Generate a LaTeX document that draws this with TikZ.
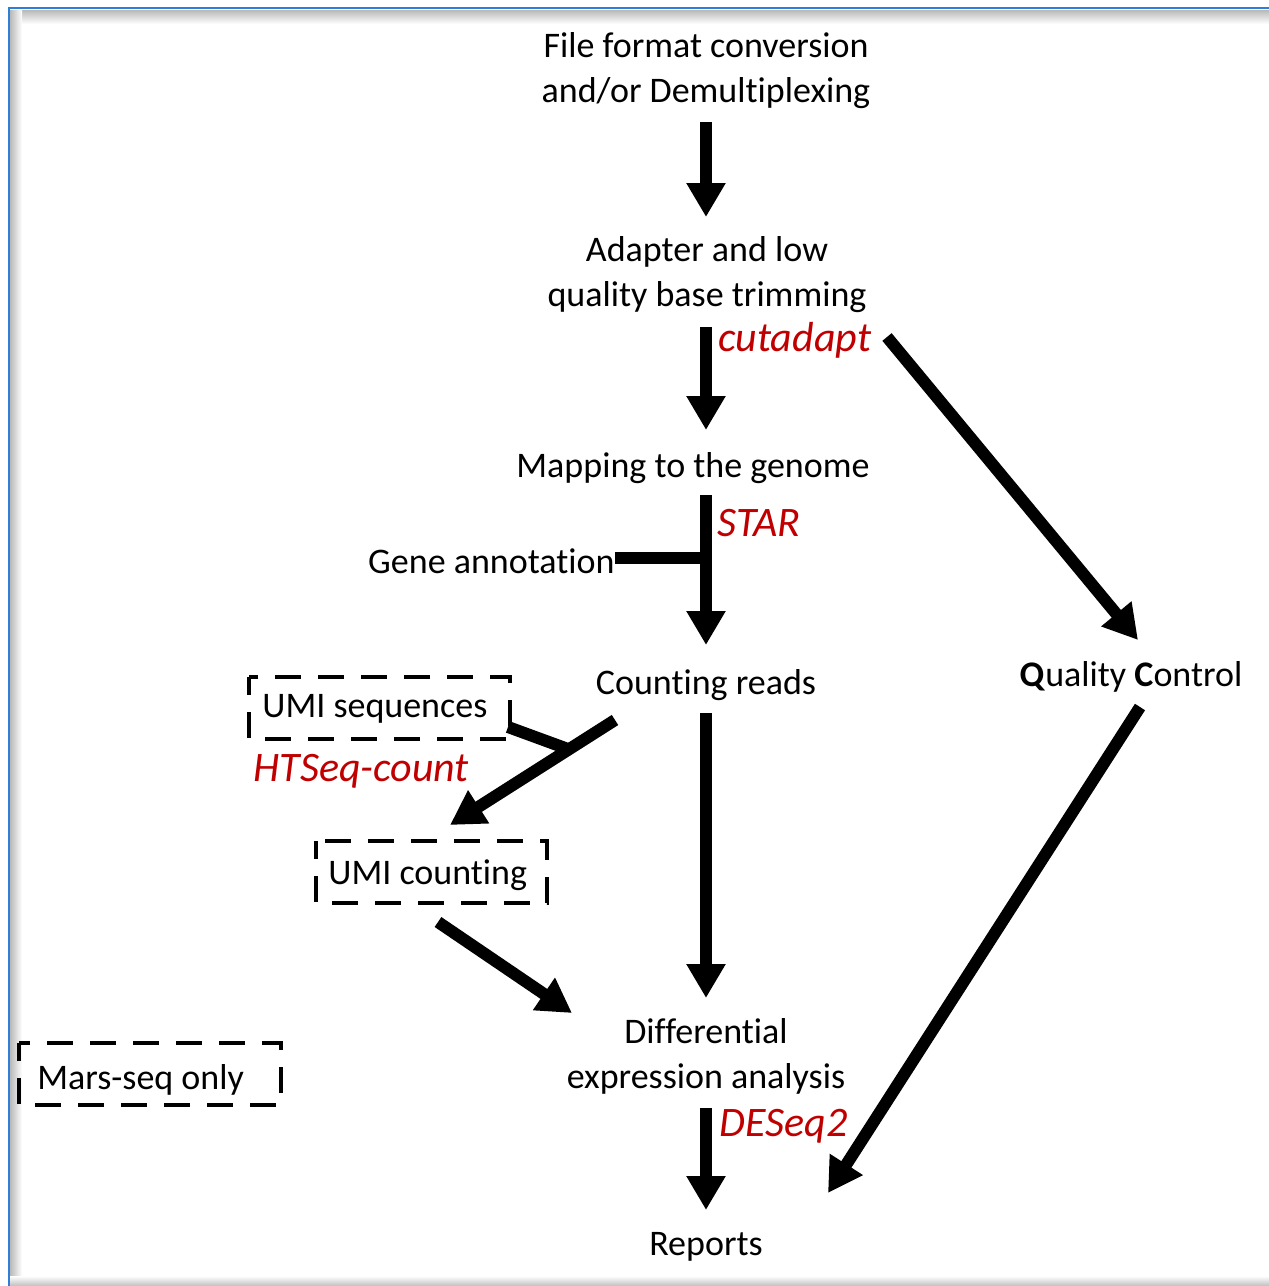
\documentclass[tikz,border=0pt]{standalone}
\usepackage{fontspec}
\setmainfont{Carlito}[Ligatures={NoCommon}]
\usetikzlibrary{arrows.meta}
\definecolor{frameblue}{HTML}{2F7FD4}
\definecolor{tool}{HTML}{C00000}
\tikzset{
  lbl/.style={inner sep=0pt, align=center, font=\fontsize{18pt}{22.5pt}\selectfont},
  toolname/.style={inner sep=0pt, text=tool, font=\fontsize{21pt}{25pt}\selectfont\itshape},
  arr/.style={line width=6pt, -{Triangle[length=17pt,width=18.5pt]}},
  bar/.style={line width=6pt},
  dbox/.style={draw, line width=2.3pt, dash pattern=on 13pt off 8.5pt, dash phase=4pt}
}
\begin{document}
\begin{tikzpicture}[x=0.5pt,y=-0.5pt]
\useasboundingbox (0,0) rectangle (1269,1286);
% frame with soft inner shadow
\shade[top color=gray!55, bottom color=white] (10,10) rectangle (1269,24);
\shade[left color=gray!55, right color=white] (10,10) rectangle (22,1286);
\shade[top color=white, bottom color=gray!50] (10,1276) rectangle (1269,1286);
\fill[white] (22,24) rectangle (1269,1276);
\draw[frameblue, line width=1.2pt] (9,1286) -- (9,8) -- (1269,8);

% main pipeline steps
\node[lbl] (fmt) at (706,71) {File format conversion\\and/or Demultiplexing};
\node[lbl] (trim) at (707,275) {Adapter and low\\quality base trimming};
\node[lbl] (map) at (693,468) {Mapping to the genome};
\node[lbl, anchor=east] (gene) at (615,561) {Gene annotation};
\node[lbl] (count) at (706,685) {Counting reads};
\node[lbl] (dea) at (706,1056) {Differential\\expression analysis};
\node[lbl] (rep) at (706,1247) {Reports};
\node[lbl] (qc) at (1131,677) {\textbf{Q}uality \textbf{C}ontrol};

% tools
\node[toolname, anchor=west] (cut) at (718,340) {cutadapt};
\node[toolname, anchor=west] (star) at (717,523) {STAR};
\node[toolname, anchor=west] (hts) at (253,771) {HTSeq-count};
\node[toolname, anchor=west] (deseq) at (719,1126) {DESeq2};

% Mars-seq specific steps
\node[lbl, anchor=west] (umiseq) at (262,709) {UMI sequences};
\node[lbl, anchor=west] (umicnt) at (328,875) {UMI counting};
\node[lbl, anchor=west] (mars) at (37,1080) {Mars-seq only};
\draw[dbox] (249,677) rectangle (510,739);
\draw[dbox] (316,841) rectangle (547,903);
\draw[dbox] (19,1043) rectangle (281,1105);

% connector end points
\coordinate (a1s) at (706,122);  \coordinate (a1e) at (706,217);
\coordinate (a2s) at (706,327);  \coordinate (a2e) at (706,430);
\coordinate (a3s) at (706,495);  \coordinate (a3e) at (706,645);
\coordinate (gj)  at (706,558);
\coordinate (a4s) at (706,713);  \coordinate (a4e) at (706,998);
\coordinate (a5s) at (706,1108); \coordinate (a5e) at (706,1210);
\coordinate (qcs) at (887,337);  \coordinate (qce) at (1138,640);
\coordinate (qrs) at (1140,707); \coordinate (qre) at (828,1193);
\coordinate (ucs) at (615,720);  \coordinate (uce) at (450,825);
\coordinate (uj)  at (568,749);  \coordinate (usq) at (508,727);
\coordinate (uds) at (438,922);  \coordinate (ude) at (572,1013);

% connectors
\draw[arr] (a1s) -- (a1e);
\draw[arr] (a2s) -- (a2e);
\draw[arr] (a3s) -- (a3e);
\draw[bar] (gene.east |- gj) -- (gj);
\draw[arr] (a4s) -- (a4e);
\draw[arr] (a5s) -- (a5e);
\draw[arr] (qcs) -- (qce);
\draw[arr] (qrs) -- (qre);
\draw[arr] (ucs) -- (uce);
\draw[bar] (usq) -- (uj);
\draw[arr] (uds) -- (ude);
\end{tikzpicture}
\end{document}
